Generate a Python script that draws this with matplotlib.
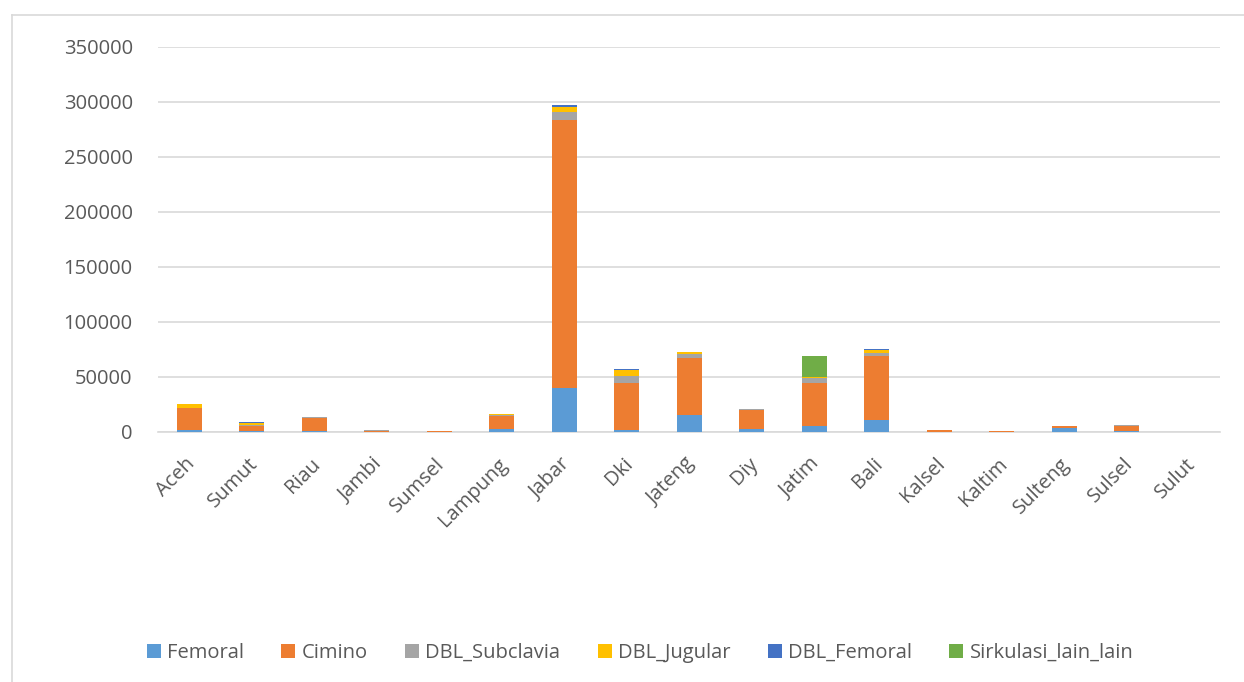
import matplotlib
matplotlib.use("Agg")
import matplotlib.pyplot as plt
import matplotlib.transforms as mtransforms
from matplotlib.patches import Patch
from matplotlib.lines import Line2D
import numpy as np

provinces = ["Aceh", "Sumut", "Riau", "Jambi", "Sumsel", "Lampung", "Jabar", "Dki",
             "Jateng", "Diy", "Jatim", "Bali", "Kalsel", "Kaltim", "Sulteng", "Sulsel", "Sulut"]

femoral        = [2000,  500,   600,  0,    0,   2700, 40000, 1500, 15500, 2500,  5000, 10400,    0,   0, 3000,  300,   0]
cimino         = [19700, 4800, 11800, 600, 200, 11800, 243000, 42400, 51300, 17500, 39000, 58200, 1800, 200, 2100, 5200, 100]
dbl_subclavia  = [0,     1200,  900,  600,   0,   600,  7900, 6400,  4200,  500,  4900,  3300,    0,   0,  300,  300,   0]
dbl_jugular    = [3900,  1500,    0,    0, 300,   600,  3900, 5500,  1200,  500,   400,  2400,    0,   0,    0,    0,   0]
dbl_femoral    = [0,     1000,    0,    0,   0,     0,  2100,  900,     0,    0,     0,   600,    0,   0,    0,    0,   0]
sirkulasi_lain = [0,        0,    0,    0,   0,     0,     0,  300,     0,    0, 19700,   600,    0,   0,    0,    0,   0]

series_names = ["Femoral", "Cimino", "DBL_Subclavia", "DBL_Jugular", "DBL_Femoral", "Sirkulasi_lain_lain"]
series_values = [femoral, cimino, dbl_subclavia, dbl_jugular, dbl_femoral, sirkulasi_lain]
series_colors = ["#5B9BD5", "#ED7D31", "#A5A5A5", "#FFC000", "#4472C4", "#70AD47"]

y_ticks = [0, 50000, 100000, 150000, 200000, 250000, 300000, 350000]

plt.rcParams["font.family"] = ["Open Sans", "DejaVu Sans"]

W, H = 1244, 682
fig = plt.figure(figsize=(W / 100, H / 100), dpi=100)
fig.patch.set_facecolor("white")

# outer frame lines (top and left)
fig.add_artist(Line2D([12 / W, 12 / W], [0, 1 - 14.5 / H], color="#D9D9D9", lw=1.2,
                      transform=fig.transFigure))
fig.add_artist(Line2D([12 / W, 1], [1 - 14.5 / H, 1 - 14.5 / H], color="#D9D9D9", lw=1.2,
                      transform=fig.transFigure))

left, right = 157.75, 1220.25
top, bottom = 46.7, 431.7
ax = fig.add_axes([left / W, 1 - bottom / H, (right - left) / W, (bottom - top) / H])

x = np.arange(len(provinces))
base = np.zeros(len(provinces))
for name, vals, col in zip(series_names, series_values, series_colors):
    v = np.array(vals, dtype=float)
    ax.bar(x, v, bottom=base, width=0.4, color=col, label=name, zorder=3)
    base += v

ax.set_xlim(-0.5, len(provinces) - 0.5)
ax.set_ylim(0, 350000)
ax.set_yticks(y_ticks)
ax.set_yticklabels([str(t) for t in y_ticks])
ax.yaxis.grid(True, color="#D9D9D9", lw=1.2, zorder=0)
ax.set_axisbelow(True)
for s in ["top", "right", "left"]:
    ax.spines[s].set_visible(False)
ax.spines["bottom"].set_color("#D9D9D9")
ax.spines["bottom"].set_linewidth(1.2)

ax.tick_params(axis="y", length=0, pad=18, labelsize=14.5, labelcolor="#595959")
ax.tick_params(axis="x", length=0, pad=14, labelsize=14.5, labelcolor="#595959")
ax.set_xticks(x)
ax.set_xticklabels(provinces, rotation=45, ha="right", va="top", rotation_mode="anchor")

# nudge the slanted category labels slightly down-left along their direction
shift = mtransforms.ScaledTranslation(-4 / 100, -3 / 100, fig.dpi_scale_trans)
for lbl in ax.get_xticklabels():
    lbl.set_transform(lbl.get_transform() + shift)

handles = [Patch(facecolor=c, edgecolor="none", label=n) for n, c in zip(series_names, series_colors)]
fig.legend(handles=handles, loc="center", bbox_to_anchor=(640 / W, 1 - 653 / H), ncol=6,
           frameon=False, fontsize=14.5, labelcolor="#595959", handlelength=0.7,
           handleheight=0.7, handletextpad=0.3, columnspacing=1.86)

fig.savefig("out.png", dpi=100, facecolor="white")
